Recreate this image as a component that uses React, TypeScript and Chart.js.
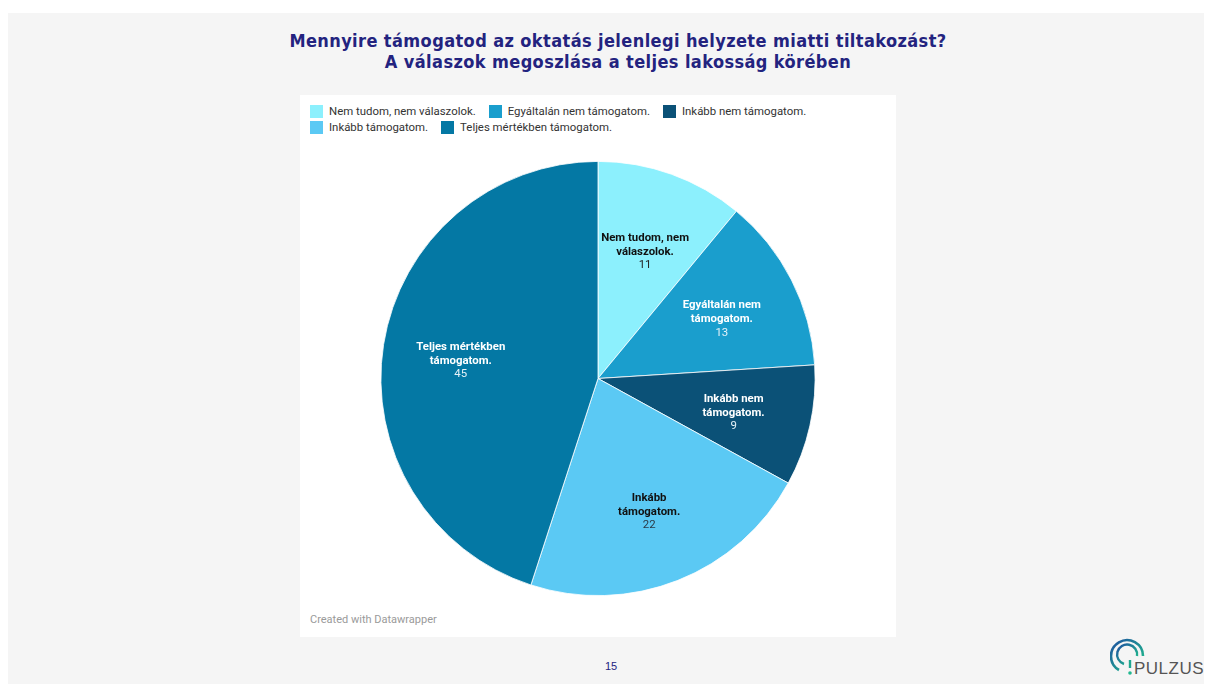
import React, { useEffect, useRef } from "react";
import { Chart, registerables } from "chart.js";

Chart.register(...registerables);

const categories = [
  "Nem tudom, nem válaszolok.",
  "Egyáltalán nem támogatom.",
  "Inkább nem támogatom.",
  "Inkább támogatom.",
  "Teljes mértékben támogatom.",
];
const values = [11, 13, 9, 22, 45];
const sliceColors = ["#8cf0fd", "#1a9ecd", "#0b5177", "#5bc9f4", "#0478a4"];
const sliceLabelLines = [
  ["Nem tudom, nem", "válaszolok."],
  ["Egyáltalán nem", "támogatom."],
  ["Inkább nem", "támogatom."],
  ["Inkább", "támogatom."],
  ["Teljes mértékben", "támogatom."],
];
const labelTextColors = ["#111111", "#ffffff", "#ffffff", "#111111", "#ffffff"];
const valueTextColors = ["#222222", "#e6f2f8", "#e6f2f8", "#2a3a48", "#e6f2f8"];

const titleLines = [
  "Mennyire támogatod az oktatás jelenlegi helyzete miatti tiltakozást?",
  "A válaszok megoszlása a teljes lakosság körében",
];
const pageNumber = "15";
const creditText = "Created with Datawrapper";

const sliceLabelPlugin = {
  id: "sliceLabels",
  afterDatasetsDraw(chart: any) {
    const ctx = chart.ctx;
    const meta = chart.getDatasetMeta(0);
    meta.data.forEach((arc: any, i: number) => {
      const p = arc.getProps(["x", "y", "startAngle", "endAngle", "outerRadius"], true);
      const mid = (p.startAngle + p.endAngle) / 2;
      const r = p.outerRadius * 0.64;
      const cx = p.x + Math.cos(mid) * r;
      const cy = p.y + Math.sin(mid) * r + 4;
      const lines = sliceLabelLines[i];
      const lh = 13.8;
      const total = lines.length + 1;
      let yy = cy - ((total - 1) * lh) / 2;
      ctx.save();
      ctx.textAlign = "center";
      ctx.textBaseline = "middle";
      ctx.font = "bold 11.4px Roboto";
      ctx.fillStyle = labelTextColors[i];
      lines.forEach((ln: string) => {
        ctx.fillText(ln, cx, yy);
        yy += lh;
      });
      ctx.font = "11.4px Roboto";
      ctx.fillStyle = valueTextColors[i];
      ctx.fillText(String(values[i]), cx, yy);
      ctx.restore();
    });
  },
};

export default function App() {
  const canvasRef = useRef<HTMLCanvasElement | null>(null);

  useEffect(() => {
    if (!canvasRef.current) return;
    const chart = new Chart(canvasRef.current, {
      type: "pie",
      data: {
        labels: categories,
        datasets: [
          {
            data: values,
            backgroundColor: sliceColors,
            borderColor: "#ffffff",
            borderWidth: 0.8,
          },
        ],
      },
      options: {
        responsive: false,
        animation: false,
        layout: { padding: 0 },
        plugins: {
          legend: { display: false },
          tooltip: { enabled: false },
          title: { display: false },
        },
      },
      plugins: [sliceLabelPlugin],
    });
    return () => chart.destroy();
  }, []);

  return (
    <div>
      <div
        style={{
          position: "absolute",
          left: 8,
          top: 13,
          width: 1196,
          height: 671,
          background: "#f5f5f5",
        }}
      />
      <div
        style={{
          position: "absolute",
          left: 218,
          top: 30,
          width: 800,
          textAlign: "center",
          fontFamily: "'DejaVu Sans Condensed', 'Liberation Sans', sans-serif",
          fontWeight: "bold",
          fontSize: 18,
          letterSpacing: "0.4px",
          lineHeight: "21px",
          color: "#23237f",
        }}
      >
        {titleLines.map((t, i) => (
          <div key={i}>{t}</div>
        ))}
      </div>
      <div
        style={{
          position: "absolute",
          left: 300,
          top: 95,
          width: 596,
          height: 542,
          background: "#ffffff",
        }}
      />
      <div
        style={{
          position: "absolute",
          left: 310,
          top: 105,
          width: 560,
          display: "flex",
          flexWrap: "wrap",
          columnGap: 13,
          rowGap: 3,
          fontFamily: "Roboto, sans-serif",
          fontSize: 11.4,
          lineHeight: "13px",
          color: "#333333",
        }}
      >
        {categories.map((c, i) => (
          <div key={i} style={{ display: "flex", alignItems: "center" }}>
            <span
              style={{
                display: "inline-block",
                width: 13,
                height: 13,
                background: sliceColors[i],
                marginRight: 6,
              }}
            />
            <span>{c}</span>
          </div>
        ))}
      </div>
      <canvas
        ref={canvasRef}
        width={596}
        height={435}
        style={{ position: "absolute", left: 300, top: 161, width: 596, height: 435 }}
      />
      <div
        style={{
          position: "absolute",
          left: 310,
          top: 613,
          fontFamily: "Roboto, sans-serif",
          fontSize: 11,
          color: "#9a9a9a",
        }}
      >
        {creditText}
      </div>
      <div
        style={{
          position: "absolute",
          left: 561,
          top: 660,
          width: 100,
          textAlign: "center",
          fontFamily: "'Liberation Sans', sans-serif",
          fontSize: 11,
          color: "#23237f",
        }}
      >
        {pageNumber}
      </div>
      <svg
        width={100}
        height={46}
        style={{ position: "absolute", left: 1110, top: 636 }}
      >
        <defs>
          <linearGradient id="pg" x1="0" y1="0" x2="1" y2="1">
            <stop offset="0" stopColor="#1e4fa0" />
            <stop offset="1" stopColor="#20c98a" />
          </linearGradient>
        </defs>
        <path d="M9 34 A16 16 0 1 1 33 20" fill="none" stroke="url(#pg)" strokeWidth={2.6} />
        <path d="M14 28 A10 10 0 1 1 27 20" fill="none" stroke="url(#pg)" strokeWidth={2.4} />
        <path d="M20 24 L20 32" stroke="#1fa890" strokeWidth={2.4} />
        <circle cx={20} cy={37} r={1.8} fill="#20b890" />
        <text
          x={24}
          y={38}
          fontFamily="'Liberation Sans', sans-serif"
          fontSize={17}
          fill="#555555"
          letterSpacing={0.5}
        >
          PULZUS
        </text>
      </svg>
    </div>
  );
}
